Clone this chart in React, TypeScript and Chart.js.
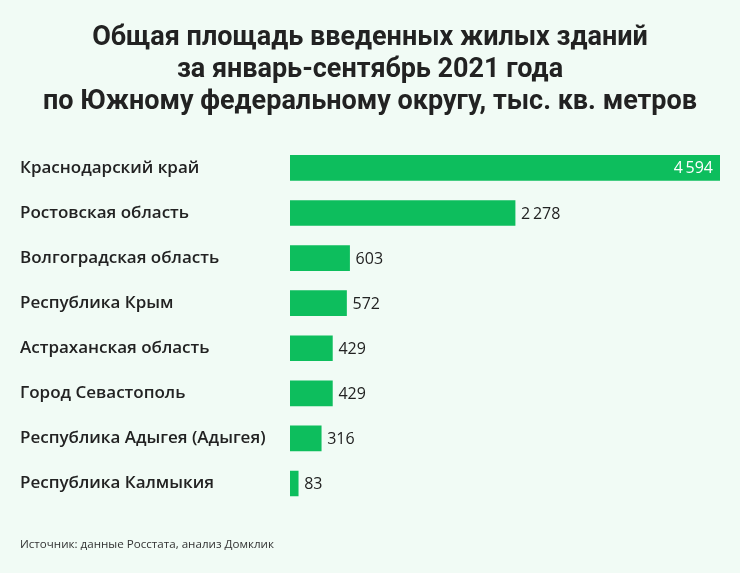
import React, { useEffect, useRef } from "react";
import { Chart, registerables } from "chart.js";

Chart.register(...registerables);

const categories = [
  "Краснодарский край",
  "Ростовская область",
  "Волгоградская область",
  "Республика Крым",
  "Астраханская область",
  "Город Севастополь",
  "Республика Адыгея (Адыгея)",
  "Республика Калмыкия",
];
const values = [4594, 2278, 603, 572, 429, 429, 316, 83];
const axisMax = 4352;
const titleLines = [
  "Общая площадь введенных жилых зданий",
  "за январь-сентябрь 2021 года",
  "по Южному федеральному округу, тыс. кв. метров",
];
const sourceText = "Источник: данные Росстата, анализ Домклик";

const BG = "#F1FBF5";
const GREEN = "#0DBE5D";
const TEXT = "#222222";
const TITLE_FONT = "Roboto, 'Noto Sans', sans-serif";
const FONT = "'Open Sans', 'Noto Sans', sans-serif";

function fmt(v: number): string {
  const s = String(v);
  return s.replace(/\B(?=(\d{3})+(?!\d))/g, "\u2009");
}

const valuePlugin = {
  id: "valueLabels",
  afterDatasetsDraw(chart: any) {
    const ctx = chart.ctx;
    const meta = chart.getDatasetMeta(0);
    const area = chart.chartArea;
    ctx.save();
    ctx.font = `400 16px ${FONT}`;
    ctx.textBaseline = "middle";
    meta.data.forEach((bar: any, i: number) => {
      const v = values[i];
      const txt = fmt(v);
      if (bar.x > area.right - 1) {
        ctx.fillStyle = "#FFFFFF";
        ctx.textAlign = "right";
        ctx.fillText(txt, area.right - 7, bar.y + 1);
      } else {
        ctx.fillStyle = TEXT;
        ctx.textAlign = "left";
        ctx.fillText(txt, bar.x + 6, bar.y + 1);
      }
    });
    ctx.fillStyle = "#333333";
    ctx.font = `400 11.6px ${FONT}`;
    ctx.textAlign = "left";
    ctx.textBaseline = "middle";
    ctx.fillText(sourceText, 20, 545);
    ctx.restore();
  },
};

const bgPlugin = {
  id: "bg",
  beforeDraw(chart: any) {
    const ctx = chart.ctx;
    ctx.save();
    ctx.fillStyle = BG;
    ctx.fillRect(0, 0, chart.width, chart.height);
    ctx.restore();
  },
};

export default function App() {
  const ref = useRef<HTMLCanvasElement | null>(null);
  useEffect(() => {
    if (!ref.current) return;
    const chart = new Chart(ref.current, {
      type: "bar",
      data: {
        labels: categories,
        datasets: [
          {
            data: values,
            backgroundColor: GREEN,
            borderWidth: 0,
            barThickness: 25,
          },
        ],
      },
      options: {
        indexAxis: "y",
        animation: false,
        responsive: false,
        maintainAspectRatio: false,
        layout: { padding: { left: 20, right: 20, top: 0, bottom: 67 } },
        plugins: {
          legend: { display: false },
          tooltip: { enabled: false },
          title: {
            display: true,
            text: titleLines,
            color: TEXT,
            font: { family: TITLE_FONT, size: 27, weight: "bold", lineHeight: 1.19 },
            padding: { top: 22, bottom: 27 },
          },
        },
        scales: {
          x: {
            min: 0,
            max: axisMax,
            display: false,
          },
          y: {
            afterFit(scale: any) {
              scale.width = 270;
            },
            grid: { display: false },
            border: { display: false },
            ticks: {
              crossAlign: "far",
              padding: 0,
              color: TEXT,
              font: { family: FONT, size: 17, weight: "600" },
            },
          },
        },
      },
      plugins: [bgPlugin, valuePlugin],
    } as any);
    return () => chart.destroy();
  }, []);
  return (
    <div style={{ position: "fixed", left: 0, top: 0, width: 740, height: 573, background: BG }}>
      <canvas ref={ref} width={740} height={573} style={{ display: "block" }} />
    </div>
  );
}
